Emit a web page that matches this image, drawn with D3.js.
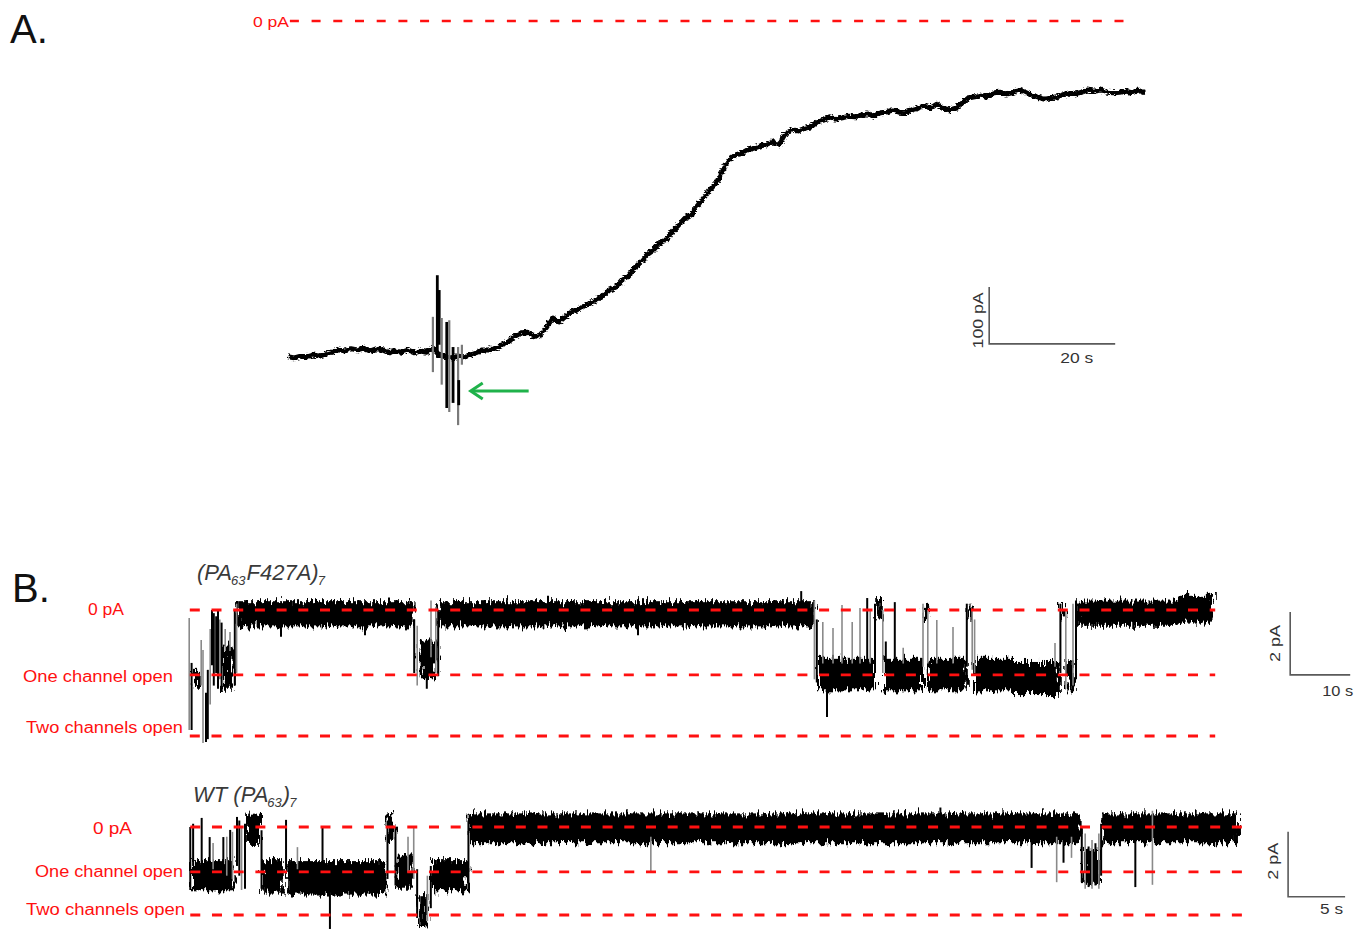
<!DOCTYPE html>
<html><head><meta charset="utf-8">
<script src="https://cdn.jsdelivr.net/npm/d3@7"></script>
<style>
html,body{margin:0;padding:0;background:#fff;}
svg{display:block;font-family:"Liberation Sans",Arial,sans-serif;}
</style></head><body>
<svg id="chart" width="1366" height="929"></svg>
<script>
// ---------------- DATA ----------------
// Panel A: whole-cell current (pA), one sample per second (t = index, s)
const traceA = [-589,-591,-588,-589,-586,-588,-584,-581,-577,-579,-575,-577,-574,-579,-575,-577,-582,-579,-581,-577,
-582,-579,-581,-574,-586,-589,-591,-588,-589,-586,-582,-577,-577,-574,-568,-563,-553,-547,-546,-554,
-551,-538,-521,-528,-519,-510,-507,-500,-495,-489,-482,-472,-467,-454,-447,-433,-423,-410,-402,-389,
-384,-370,-358,-346,-340,-324,-310,-296,-284,-261,-244,-235,-232,-226,-223,-219,-217,-212,-217,-198,
-191,-193,-188,-186,-177,-174,-168,-172,-170,-167,-168,-165,-163,-167,-161,-160,-156,-160,-161,-156,
-153,-149,-153,-146,-153,-156,-153,-144,-135,-133,-130,-133,-126,-125,-128,-126,-121,-125,-130,-133,
-137,-135,-133,-130,-126,-128,-125,-121,-123,-121,-125,-126,-125,-123,-126,-121,-126];
// addition artifact: [t (s), top pA, bottom pA, shade]
const spikesA = [[23.0,-519,-616,'g'],[23.7,-446,-586,'k'],[24.0,-472,-568,'k'],[24.4,-521,-638,'g'],
[25.2,-528,-679,'k'],[25.6,-525,-686,'g'],[26.2,-572,-670,'k'],[27.0,-572,-709,'g'],[27.1,-630,-674,'k'],[27.6,-568,-603,'g']];
const zeroLineA = [0.3, 134.4];          // s
const arrowTip = [29.0, -649], arrowTail = [38.2, -649];
const scaleBarA = {t: 20, pA: 100, at: [111.3, -566.5]};
const scaleLabelsA = ["100 pA", "20 s"];

// Panel B levels and labels
const levelNames = ["0 pA", "One channel open", "Two channels open"];
const levelsB1 = [0, -2.06, -4.0];
const levelsB2 = [0, -1.38, -2.71];
const titleB1 = ["(PA", "63", "F427A)", "7"];
const titleB2 = ["WT (PA", "63", ")", "7"];

// dwells: [t start, t end, upper pA, lower pA]
const dwellsB1 = [[0.8,2.0,-1.9,-2.5],[5.8,7.6,-1.1,-2.5],[8.2,37.6,0.28,-0.52],[38.6,41.4,-1.0,-2.2],
[41.7,104.3,0.28,-0.52],[105.0,114.5,-1.55,-2.55],[114.7,115.8,0.38,-0.3],[116.0,122.5,-1.55,-2.55],
[122.6,123.2,0.1,-0.35],[123.3,129.8,-1.55,-2.55],[129.9,130.6,0.2,-0.35],[131.0,137.5,-1.55,-2.55],
[137.5,145.3,-1.65,-2.7],[145.5,146.2,0.2,-0.3],[146.4,147.8,-1.6,-2.55],[148.2,165.0,0.3,-0.5],[165.0,170.8,0.45,-0.4]];
// transitions / brief events: [t, top pA, bottom pA, shade]
const eventsB1 = [[0.2,-0.25,-3.81,'g'],[0.6,-1.68,-3.81,'k'],[2.2,-0.95,-2.4,'g'],[2.5,-1.27,-4.22,'g'],
[3.0,-2.63,-4.19,'k'],[3.3,-1.9,-4.1,'k'],[3.7,-0.6,-3.0,'g'],[4.0,0.0,-1.75,'k'],[4.3,-0.1,-2.4,'k'],
[4.7,-0.2,-2.0,'k'],[5.0,0.0,-2.5,'k'],[5.3,-0.3,-2.2,'g'],[5.6,-0.4,-2.6,'k'],[6.2,-0.6,-1.3,'g'],
[7.0,-0.7,-1.3,'g'],[7.8,0.0,-2.4,'k'],[8.1,0.2,-2.0,'g'],[15.5,-0.1,-0.85,'k'],[29.5,-0.1,-0.8,'k'],
[33.5,0.4,-0.1,'k'],[37.7,-0.3,-2.0,'k'],[38.2,-0.5,-2.4,'g'],[39.8,-1.6,-2.5,'k'],[40.5,0.3,-1.5,'g'],
[41.3,0.1,-2.0,'g'],[41.7,0.0,-2.1,'k'],[60.0,0.45,-0.5,'k'],[75.0,-0.1,-0.8,'k'],[102.2,0.6,-0.3,'k'],
[104.4,0.3,-2.2,'g'],[104.8,-0.3,-2.3,'k'],[105.8,-0.38,-1.7,'g'],[106.5,-2.2,-3.4,'k'],[107.5,-0.57,-1.7,'g'],
[109.0,0.16,-1.7,'g'],[110.7,-0.38,-1.7,'g'],[112.0,0.06,-1.7,'g'],[113.2,0.38,-1.7,'k'],[113.7,0.0,-1.7,'g'],
[114.5,0.2,-2.0,'k'],[115.8,0.0,-2.0,'g'],[116.3,-1.0,-2.0,'k'],[117.8,0.25,-1.7,'k'],[119.2,-1.2,-1.7,'g'],
[122.5,0.2,-1.8,'g'],[123.3,0.0,-1.7,'g'],[124.8,-0.32,-1.7,'g'],[127.5,-0.54,-1.7,'g'],[129.8,0.2,-1.8,'k'],
[130.7,0.0,-1.9,'g'],[131.1,-0.3,-2.0,'g'],[144.5,-1.05,-1.8,'g'],[145.4,0.2,-2.0,'k'],[146.3,0.0,-2.5,'g'],
[147.5,0.2,-2.4,'g'],[148.0,0.3,-2.2,'k']];

const dwellsB2 = [[0.35,4.0,-1.02,-1.98],[5.1,6.4,0.38,-0.52],[6.5,8.4,-1.02,-2.02],[8.7,17.4,-1.05,-2.08],
[17.5,18.1,0.43,-0.49],[18.3,19.7,-0.85,-1.9],[20.2,21.0,-2.1,-3.08],[21.4,24.5,-1.02,-1.98],
[24.7,78.3,0.42,-0.5],[78.5,80.0,-0.7,-1.75],[80.2,92.1,0.42,-0.5]];
const eventsB2 = [[0.2,0.0,-1.94,'k'],[0.45,0.1,-1.2,'k'],[1.2,0.28,-1.3,'k'],[1.9,-0.31,-1.3,'k'],
[2.2,-0.49,-1.3,'g'],[3.1,-0.31,-1.3,'k'],[3.4,-0.3,-1.5,'g'],[3.7,-0.09,-1.3,'k'],[3.9,-0.15,-1.6,'g'],
[4.3,0.31,-1.2,'k'],[4.5,0.2,-1.5,'k'],[4.7,0.0,-1.94,'g'],[5.0,0.1,-1.9,'k'],[6.45,-0.1,-1.9,'k'],
[8.6,0.22,-1.3,'k'],[9.6,-0.62,-1.3,'g'],[11.8,0.0,-1.3,'k'],[12.45,-1.5,-3.14,'k'],[17.5,0.2,-1.6,'k'],
[18.2,0.0,-1.8,'k'],[19.3,-0.3,-1.4,'g'],[19.8,0.0,-1.6,'g'],[20.1,-1.3,-2.8,'k'],[21.0,-1.5,-2.9,'g'],
[21.3,-1.2,-2.5,'k'],[24.6,0.2,-1.9,'k'],[40.6,-0.3,-1.38,'g'],[66.0,0.6,0.0,'k'],[74.0,-0.3,-1.26,'k'],
[76.2,-0.3,-1.7,'g'],[76.8,-0.4,-1.1,'k'],[77.5,-0.3,-0.95,'g'],[78.4,0.0,-1.7,'k'],[78.7,-0.2,-1.9,'g'],
[79.0,-0.6,-1.85,'k'],[79.3,-0.4,-1.9,'g'],[79.6,-0.5,-1.8,'k'],[79.9,-0.2,-1.9,'g'],[80.1,0.1,-1.5,'k'],
[83.1,-0.2,-1.85,'k'],[84.6,0.5,-1.78,'g']];
const dashRangeB1 = [0.3, 171.2], dashRangeB2 = [0.2, 93.3];
const scaleBarB1 = {t: 10, pA: 2, at: [183.7, -2.06]};
const scaleBarB2 = {t: 5, pA: 2, at: [96.5, -2.15]};
const scaleLabelsB1 = ["2 pA", "10 s"], scaleLabelsB2 = ["2 pA", "5 s"];

// ---------------- DRAW ----------------
const RED = "#ff1010", GRAY = "#8a8a8a", BAR = "#5a5a5a", TXT = "#333";
const svg = d3.select("#chart");
const defs = svg.append("defs");
function fuzz(id, freq, scale, seed) {
  const f = defs.append("filter").attr("id", id).attr("x", "-2%").attr("y", "-10%")
    .attr("width", "104%").attr("height", "120%").attr("color-interpolation-filters", "sRGB");
  f.append("feTurbulence").attr("type", "fractalNoise").attr("baseFrequency", freq)
    .attr("numOctaves", 2).attr("seed", seed).attr("result", "n");
  f.append("feDisplacementMap").attr("in", "SourceGraphic").attr("in2", "n").attr("scale", scale)
    .attr("xChannelSelector", "R").attr("yChannelSelector", "G");
}
fuzz("fuzzA", "0.25 0.6", 5, 3);
fuzz("fuzzB", "0.45 0.08", 16, 7);

// Panel letters
svg.append("text").attr("x", 10).attr("y", 43).attr("font-size", 40).attr("fill", "#111").text("A.");
svg.append("text").attr("x", 12).attr("y", 602).attr("font-size", 40).attr("fill", "#111").text("B.");

// ---- Panel A ----
const xA = d3.scaleLinear().domain([0, 136]).range([288, 1144.8]);
const yA = d3.scaleLinear().domain([0, -100]).range([21, 78]);
svg.append("line").attr("x1", xA(zeroLineA[0])).attr("x2", xA(zeroLineA[1]))
  .attr("y1", yA(0)).attr("y2", yA(0)).attr("stroke", RED).attr("stroke-width", 2.6)
  .attr("stroke-dasharray", "9,12.7");
svg.append("text").attr("x", 253).attr("y", yA(0)).attr("dominant-baseline", "central")
  .attr("font-size", 15).attr("fill", RED).attr("textLength", 36).attr("lengthAdjust", "spacingAndGlyphs").text("0 pA");

svg.append("path").datum(traceA)
  .attr("d", d3.line().x((d, i) => xA(i)).y(d => yA(d)))
  .attr("fill", "none").attr("stroke", "#000").attr("stroke-width", 5)
  .attr("stroke-linejoin", "round").attr("filter", "url(#fuzzA)");
svg.append("g").selectAll("line").data(spikesA).join("line")
  .attr("x1", d => xA(d[0])).attr("x2", d => xA(d[0]))
  .attr("y1", d => yA(d[1])).attr("y2", d => yA(d[2]))
  .attr("stroke", d => d[3] === 'k' ? "#000" : "#7a7a7a")
  .attr("stroke-width", d => d[3] === 'k' ? 2.8 : 2.2);

// green arrow
const ax0 = xA(arrowTail[0]), ax1 = xA(arrowTip[0]), ay = yA(arrowTip[1]);
svg.append("line").attr("x1", ax0).attr("x2", ax1 + 2).attr("y1", ay).attr("y2", ay)
  .attr("stroke", "#1fb24a").attr("stroke-width", 3);
svg.append("path").attr("d", `M${ax1 + 12},${ay - 8}L${ax1},${ay}L${ax1 + 12},${ay + 8}`)
  .attr("fill", "none").attr("stroke", "#1fb24a").attr("stroke-width", 3);

function scaleBar(x, y, sb, labels, hOffsets) {
  const cx = x(sb.at[0]), cy = y(sb.at[1]);
  const topY = y(sb.at[1] + sb.pA), rightX = x(sb.at[0] + sb.t);
  svg.append("path").attr("d", `M${cx},${topY}L${cx},${cy}L${rightX},${cy}`)
    .attr("fill", "none").attr("stroke", BAR).attr("stroke-width", 1.6);
  const vmid = (topY + cy) / 2 + hOffsets.vy;
  svg.append("text").attr("transform", `translate(${cx + hOffsets.vx},${vmid}) rotate(-90)`)
    .attr("text-anchor", "middle").attr("font-size", 14).attr("fill", TXT)
    .attr("textLength", hOffsets.vw).attr("lengthAdjust", "spacingAndGlyphs").text(labels[0]);
  svg.append("text").attr("x", rightX + hOffsets.hx).attr("y", cy + hOffsets.hy)
    .attr("text-anchor", "end").attr("font-size", 14).attr("fill", TXT)
    .attr("textLength", hOffsets.hw).attr("lengthAdjust", "spacingAndGlyphs").text(labels[1]);
}
scaleBar(xA, yA, scaleBarA, scaleLabelsA, {vx: -6, vy: 5, vw: 56, hx: -22, hy: 19, hw: 33});

// ---- Panel B ----
function tracePanel(cfg) {
  const {x, y} = cfg;
  const t = svg.append("text").attr("x", cfg.titleX).attr("y", cfg.titleY)
    .attr("font-size", 22).attr("font-style", "italic").attr("fill", "#3a3a3a");
  cfg.title.forEach((s, i) => {
    const sub = i % 2 === 1;
    t.append("tspan").attr("font-size", sub ? 13 : 22)
      .attr("dx", sub ? -1 : (i > 0 ? 1 : 0))
      .attr("dy", sub ? 5 : (i > 0 ? -5 : 0)).text(s);
  });
  svg.append("g").attr("filter", "url(#fuzzB)").selectAll("rect").data(cfg.dwells).join("rect")
    .attr("x", d => x(d[0])).attr("width", d => x(d[1]) - x(d[0]))
    .attr("y", d => y(d[2])).attr("height", d => y(d[3]) - y(d[2])).attr("fill", "#000");
  svg.append("g").selectAll("line").data(cfg.events).join("line")
    .attr("x1", d => x(d[0])).attr("x2", d => x(d[0]))
    .attr("y1", d => y(d[1])).attr("y2", d => y(d[2]))
    .attr("stroke", d => d[3] === 'k' ? "#000" : GRAY)
    .attr("stroke-width", d => d[3] === 'k' ? 2 : 1.6);
  svg.append("g").selectAll("line").data(cfg.levels).join("line")
    .attr("x1", x(cfg.dash[0])).attr("x2", x(cfg.dash[1]))
    .attr("y1", d => y(d)).attr("y2", d => y(d))
    .attr("stroke", RED).attr("stroke-width", 2.8).attr("stroke-dasharray", "10,11.7");
  svg.append("g").selectAll("text").data(cfg.levels).join("text")
    .attr("x", (d, i) => cfg.labelPos[i][0]).attr("y", (d, i) => y(d) + cfg.labelPos[i][1])
    .attr("dominant-baseline", "central").attr("font-size", 16).attr("fill", RED)
    .attr("textLength", (d, i) => cfg.labelPos[i][2]).attr("lengthAdjust", "spacingAndGlyphs")
    .text((d, i) => levelNames[i]);
  scaleBar(x, y, cfg.bar, cfg.barLabels, cfg.barOff);
}

tracePanel({
  x: d3.scaleLinear().domain([0, 171]).range([188, 1214]),
  y: d3.scaleLinear().domain([0, -4]).range([610, 736]),
  title: titleB1, titleX: 197, titleY: 580,
  dwells: dwellsB1, events: eventsB1, levels: levelsB1, dash: dashRangeB1,
  labelPos: [[88, -1, 36], [23, 2, 150], [26, -9, 157]],
  bar: scaleBarB1, barLabels: scaleLabelsB1,
  barOff: {vx: -10, vy: 0, vw: 37, hx: 3, hy: 21, hw: 31}
});
tracePanel({
  x: d3.scaleLinear().domain([0, 92]).range([188, 1236.8]),
  y: d3.scaleLinear().domain([0, -2.71]).range([827, 915]),
  title: titleB2, titleX: 193, titleY: 802,
  dwells: dwellsB2, events: eventsB2, levels: levelsB2, dash: dashRangeB2,
  labelPos: [[93, 1, 39], [35, 0, 148], [26, -6, 159]],
  bar: scaleBarB2, barLabels: scaleLabelsB2,
  barOff: {vx: -10, vy: -3, vw: 37, hx: -2, hy: 17, hw: 23}
});
</script>
</body></html>
